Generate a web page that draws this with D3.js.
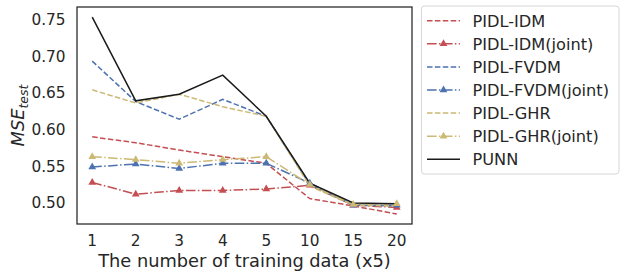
<!DOCTYPE html>
<html>
<head>
<meta charset="utf-8">
<script src="https://cdn.jsdelivr.net/npm/d3@7"></script>
<style>
  body { margin: 0; background: #fff; }
  text { font-family: "DejaVu Sans", sans-serif; fill: #262626; }
</style>
</head>
<body>
<svg id="chart" width="625" height="278" viewBox="0 0 625 278"></svg>
<script>
// categories on the x axis (training data size, x5)
const sizes = ["1", "2", "3", "4", "5", "10", "15", "20"];
const yTicks = [0.50, 0.55, 0.60, 0.65, 0.70, 0.75];

// MSE values
const pidlIdm       = [0.590, 0.582, 0.572, 0.563, 0.554, 0.506, 0.496, 0.485];
const pidlIdmJoint  = [0.528, 0.512, 0.517, 0.517, 0.519, 0.524, 0.497, 0.494];
const pidlFvdm      = [0.693, 0.638, 0.614, 0.641, 0.618, 0.525, 0.497, 0.496];
const pidlFvdmJoint = [0.549, 0.553, 0.547, 0.554, 0.554, 0.527, 0.497, 0.497];
const pidlGhr       = [0.654, 0.636, 0.648, 0.631, 0.618, 0.523, 0.497, 0.496];
const pidlGhrJoint  = [0.563, 0.559, 0.554, 0.559, 0.563, 0.525, 0.498, 0.499];
const punn          = [0.753, 0.639, 0.648, 0.674, 0.618, 0.527, 0.500, 0.499];

const series = [
    {name: "PIDL-IDM", values: pidlIdm, color: "#C44E52", dash: "5.5,2.4", marker: false},
    {name: "PIDL-IDM(joint)", values: pidlIdmJoint, color: "#C44E52", dash: "9.6,2.4,1.5,2.4", marker: true},
    {name: "PIDL-FVDM", values: pidlFvdm, color: "#4C72B0", dash: "5.5,2.4", marker: false},
    {name: "PIDL-FVDM(joint)", values: pidlFvdmJoint, color: "#4C72B0", dash: "9.6,2.4,1.5,2.4", marker: true},
    {name: "PIDL-GHR", values: pidlGhr, color: "#CCB974", dash: "5.5,2.4", marker: false},
    {name: "PIDL-GHR(joint)", values: pidlGhrJoint, color: "#CCB974", dash: "9.6,2.4,1.5,2.4", marker: true},
    {name: "PUNN", values: punn, color: "#1a1a1a", dash: null, marker: false}
];

const svg = d3.select("#chart");
const plot = {left: 77, right: 412, top: 7, bottom: 224};
const tickSize = 15.3, legendSize = 16.2, labelSize = 17.8;

const x = d3.scaleLinear()
    .domain([-0.35, sizes.length - 1 + 0.35])
    .range([plot.left, plot.right]);
const y = d3.scaleLinear()
    .domain([0.4714, 0.7667])
    .range([plot.bottom, plot.top]);

// tick labels (seaborn white style: no tick marks)
svg.append("g")
    .selectAll("text")
    .data(sizes)
    .join("text")
    .attr("x", (d, i) => x(i))
    .attr("y", 246.3)
    .attr("text-anchor", "middle")
    .style("font-size", tickSize + "px")
    .text(d => d);

svg.append("g")
    .selectAll("text")
    .data(yTicks)
    .join("text")
    .attr("x", plot.left - 11.5)
    .attr("y", d => y(d))
    .attr("dy", "0.36em")
    .attr("text-anchor", "end")
    .style("font-size", tickSize + "px")
    .text(d => d3.format(".2f")(d));

// axis labels
svg.append("text")
    .attr("x", (plot.left + plot.right) / 2)
    .attr("y", 267.3)
    .attr("text-anchor", "middle")
    .style("font-size", labelSize + "px")
    .text("The number of training data (x5)");

const ylab = svg.append("text")
    .attr("transform", "translate(23.5," + ((plot.top + plot.bottom) / 2) + ") rotate(-90)")
    .attr("text-anchor", "middle")
    .style("font-size", labelSize + "px");
ylab.append("tspan").style("font-style", "italic").text("MSE");
ylab.append("tspan").attr("dy", 4.8).style("font-size", (labelSize * 0.7) + "px").style("font-style", "italic").text("test");

// lines
const line = d3.line()
    .x((d, i) => x(i))
    .y(d => y(d));

const g = svg.append("g");
series.forEach(s => {
    g.append("path")
        .datum(s.values)
        .attr("d", line)
        .attr("fill", "none")
        .attr("stroke", s.color)
        .attr("stroke-width", 1.5)
        .attr("stroke-dasharray", s.dash);
});

const tri = d3.symbol().type(d3.symbolTriangle).size(26);
series.filter(s => s.marker).forEach(s => {
    g.append("g")
        .selectAll("path")
        .data(s.values)
        .join("path")
        .attr("transform", (d, i) => "translate(" + x(i) + "," + y(d) + ")")
        .attr("d", tri)
        .attr("fill", s.color);
});

// frame
svg.append("rect")
    .attr("x", plot.left)
    .attr("y", plot.top)
    .attr("width", plot.right - plot.left)
    .attr("height", plot.bottom - plot.top)
    .attr("fill", "none")
    .attr("stroke", "#262626")
    .attr("stroke-width", 1.25);

// legend
const legend = svg.append("g");
legend.append("rect")
    .attr("x", 421.5)
    .attr("y", 6)
    .attr("width", 197.5)
    .attr("height", 168)
    .attr("rx", 3)
    .attr("fill", "#fff")
    .attr("fill-opacity", 0.8)
    .attr("stroke", "#d6d6d6")
    .attr("stroke-width", 1);

series.forEach((s, i) => {
    const ly = 20.7 + i * 23.1;
    legend.append("line")
        .attr("x1", 427)
        .attr("x2", 460)
        .attr("y1", ly)
        .attr("y2", ly)
        .attr("stroke", s.color)
        .attr("stroke-width", 1.5)
        .attr("stroke-dasharray", s.dash);
    if (s.marker) {
        legend.append("path")
            .attr("transform", "translate(443.5," + ly + ")")
            .attr("d", tri)
            .attr("fill", s.color);
    }
    legend.append("text")
        .attr("x", 472.5)
        .attr("y", ly)
        .attr("dy", "0.36em")
        .style("font-size", legendSize + "px")
        .text(s.name);
});
</script>
</body>
</html>
